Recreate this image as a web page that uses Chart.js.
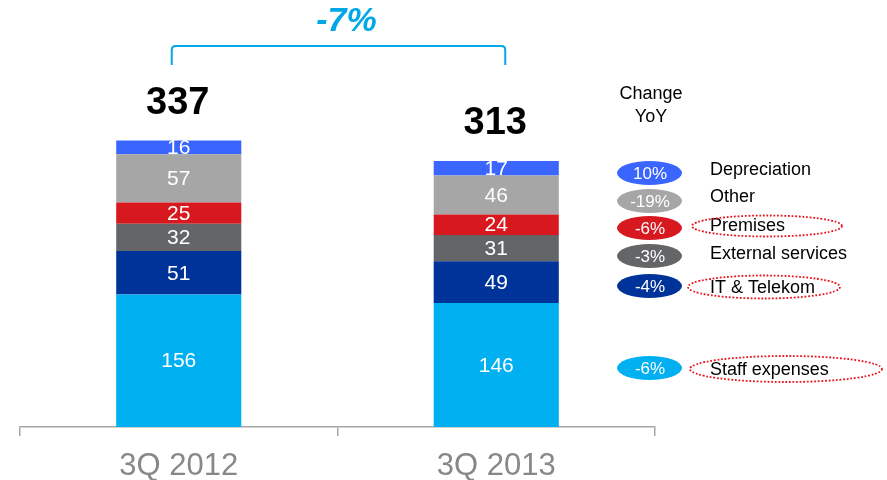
<!DOCTYPE html>
<html>
<head>
<meta charset="utf-8">
<script src="https://cdn.jsdelivr.net/npm/chart.js@4.4.1/dist/chart.umd.min.js"></script>
<style>
html,body{margin:0;padding:0;background:#fff;}
canvas{display:block;}
</style>
</head>
<body>
<canvas id="c" width="887" height="480"></canvas>
<script>
// ---- data ----
const categories = ['3Q 2012', '3Q 2013'];
const seriesNames = ['Staff expenses', 'IT & Telekom', 'External services', 'Premises', 'Other', 'Depreciation'];
const staffExpenses = [156, 146];
const itTelekom = [51, 49];
const externalServices = [32, 31];
const premises = [25, 24];
const other = [57, 46];
const depreciation = [16, 17];
const changeYoY = ['-6%', '-4%', '-3%', '-6%', '-19%', '10%'];
const highlighted = [true, true, false, true, false, false];
const totalChangeLabel = '-7%';
const legendTitle = ['Change', 'YoY'];

// ---- styles ----
const colors = ['#00B0F0', '#003399', '#646567', '#D7191F', '#A6A6A6', '#3A66FF'];
const FONT = "Arial, 'Liberation Sans', sans-serif";
const ACCENT = '#00A8E6';

const seriesValues = [staffExpenses, itTelekom, externalServices, premises, other, depreciation];

const datasets = seriesValues.map((vals, i) => ({
  label: seriesNames[i],
  data: vals,
  backgroundColor: colors[i],
  borderWidth: 0,
  barPercentage: 0.394,
  categoryPercentage: 1.0
}));

const decorPlugin = {
  id: 'decor',
  afterDatasetsDraw(chart) {
    const ctx = chart.ctx;
    const xs = chart.scales.x;
    const ys = chart.scales.y;
    ctx.save();
    // segment labels
    ctx.fillStyle = '#fff';
    ctx.font = '21px ' + FONT;
    ctx.textAlign = 'center';
    ctx.textBaseline = 'middle';
    chart.data.datasets.forEach((ds, di) => {
      const meta = chart.getDatasetMeta(di);
      meta.data.forEach((el, i) => {
        const yc = (el.y + el.base) / 2;
        ctx.fillText(String(ds.data[i]), el.x, yc + 1);
      });
    });
    // totals
    ctx.fillStyle = '#000';
    ctx.font = 'bold 38px ' + FONT;
    ctx.textBaseline = 'alphabetic';
    categories.forEach((c, i) => {
      let total = 0;
      seriesValues.forEach(v => total += v[i]);
      const x = xs.getPixelForValue(i);
      const y = ys.getPixelForValue(total);
      ctx.fillText(String(total), x - 1, y - 27);
    });
    // bracket
    const xl = xs.getPixelForValue(0) - 7;
    const xr = xs.getPixelForValue(1) + 9;
    const yt = 46, yb = 65, r = 4;
    ctx.strokeStyle = ACCENT;
    ctx.lineWidth = 2;
    ctx.beginPath();
    ctx.moveTo(xl, yb);
    ctx.lineTo(xl, yt + r);
    ctx.quadraticCurveTo(xl, yt, xl + r, yt);
    ctx.lineTo(xr - r, yt);
    ctx.quadraticCurveTo(xr, yt, xr, yt + r);
    ctx.lineTo(xr, yb);
    ctx.stroke();
    ctx.fillStyle = ACCENT;
    ctx.font = 'italic bold 34px ' + FONT;
    ctx.textBaseline = 'middle';
    ctx.fillText(totalChangeLabel, (xl + xr) / 2 + 8, 22);

    // legend title
    ctx.fillStyle = '#000';
    ctx.font = '18px ' + FONT;
    ctx.fillText(legendTitle[0], 651, 94);
    ctx.fillText(legendTitle[1], 651, 117);

    // legend rows (bottom series first)
    const rowY = [368, 286, 256, 228, 201, 173];
    const textY = [370, 288, 254, 226, 197, 170];
    const ringX = [786, 764, 0, 767, 0, 0];
    const ringRX = [96, 76, 0, 75, 0, 0];
    const ringRY = [13, 11.5, 0, 10.5, 0, 0];
    seriesNames.forEach((name, i) => {
      ctx.fillStyle = colors[i];
      ctx.beginPath();
      ctx.ellipse(649.5, rowY[i], 32.5, 12, 0, 0, Math.PI * 2);
      ctx.fill();
      ctx.fillStyle = '#fff';
      ctx.font = '17px ' + FONT;
      ctx.textAlign = 'center';
      ctx.fillText(changeYoY[i], 650, rowY[i] + 1);
      ctx.fillStyle = '#000';
      ctx.font = '18px ' + FONT;
      ctx.textAlign = 'left';
      ctx.fillText(name, 710, textY[i]);
      if (highlighted[i]) {
        ctx.strokeStyle = '#E8141B';
        ctx.lineWidth = 1.8;
        ctx.setLineDash([1.8, 1.8]);
        ctx.beginPath();
        ctx.ellipse(ringX[i], rowY[i] + (i === 3 ? -2 : 1), ringRX[i], ringRY[i], 0, 0, Math.PI * 2);
        ctx.stroke();
        ctx.setLineDash([]);
      }
    });
    ctx.restore();
  }
};

new Chart(document.getElementById('c'), {
  type: 'bar',
  data: { labels: categories, datasets },
  options: {
    responsive: false,
    devicePixelRatio: 1,
    animation: false,
    layout: { padding: { left: 20, right: 232, top: 87, bottom: 0 } },
    plugins: { legend: { display: false }, tooltip: { enabled: false } },
    scales: {
      x: {
        stacked: true,
        afterFit(scale) { scale.height = 53; },
        grid: { display: true, drawOnChartArea: false, drawTicks: true, tickLength: 9, color: '#A6A6A6', lineWidth: 1.5, offset: true },
        border: { display: true, color: '#A6A6A6', width: 1.5 },
        ticks: { color: '#888888', font: { family: FONT, size: 31 }, padding: 12 }
      },
      y: {
        stacked: true,
        display: false,
        min: 0,
        max: 400
      }
    }
  },
  plugins: [decorPlugin]
});
</script>
</body>
</html>
